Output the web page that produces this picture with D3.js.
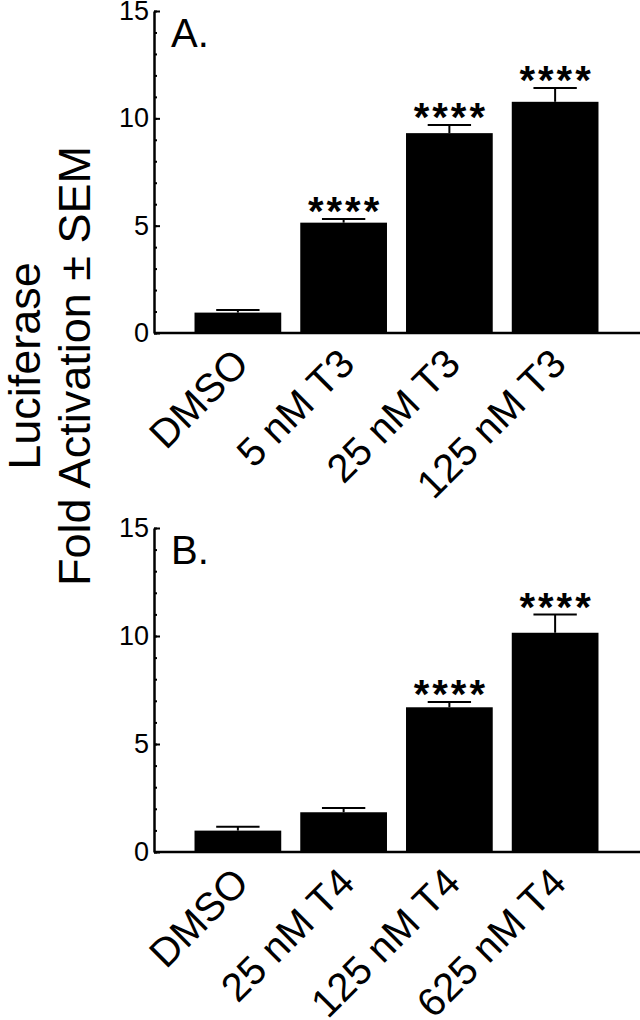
<!DOCTYPE html>
<html>
<head>
<meta charset="utf-8">
<script src="https://cdn.jsdelivr.net/npm/d3@7"></script>
<style>
  body { margin: 0; background: #fff; }
  svg { display: block; font-family: Arial, "Liberation Sans", Helvetica, sans-serif; }
</style>
</head>
<body>
<div id="chart"></div>
<script>
// panel A: T3
const t3Categories = ['DMSO', '5 nM T3', '25 nM T3', '125 nM T3'];
const t3Means = [0.95, 5.14, 9.31, 10.77];
const t3Sem = [0.12, 0.17, 0.38, 0.64];
const t3Stars = ['', '****', '****', '****'];

// panel B: T4
const t4Categories = ['DMSO', '25 nM T4', '125 nM T4', '625 nM T4'];
const t4Means = [0.99, 1.84, 6.7, 10.15];
const t4Sem = [0.18, 0.2, 0.24, 0.84];
const t4Stars = ['', '', '****', '****'];

const majorTicks = [0, 5, 10, 15];
const minorTicks = d3.range(0, 16);
const yTitle = ['Luciferase', 'Fold Activation \u00B1 SEM'];

const width = 640,
  height = 1020;

const svg = d3
  .select('#chart')
  .append('svg')
  .attr('width', width)
  .attr('height', height);

const axisX = 154;

function drawPanel(label, cats, means, sem, stars, y0, y15) {
  const x = d3
    .scaleBand()
    .domain(cats)
    .range([185, 608])
    .paddingInner(0.18)
    .paddingOuter(0.09);

  const y = d3.scaleLinear().domain([0, 15]).range([y0, y15]);

  const g = svg.append('g');
  const rows = cats.map((c, i) => ({ c, m: means[i], e: sem[i], s: stars[i] }));

  // bars
  g.selectAll('rect.bar')
    .data(rows)
    .join('rect')
    .attr('class', 'bar')
    .attr('x', d => x(d.c))
    .attr('width', x.bandwidth())
    .attr('y', d => y(d.m))
    .attr('height', d => y(0) - y(d.m))
    .attr('fill', '#000');

  // error bars (upper only)
  const capW = x.bandwidth() / 2;
  g.selectAll('line.err')
    .data(rows)
    .join('line')
    .attr('class', 'err')
    .attr('x1', d => x(d.c) + x.bandwidth() / 2)
    .attr('x2', d => x(d.c) + x.bandwidth() / 2)
    .attr('y1', d => y(d.m))
    .attr('y2', d => y(d.m + d.e))
    .attr('stroke', '#000')
    .attr('stroke-width', 2);
  g.selectAll('line.cap')
    .data(rows)
    .join('line')
    .attr('class', 'cap')
    .attr('x1', d => x(d.c) + x.bandwidth() / 2 - capW / 2)
    .attr('x2', d => x(d.c) + x.bandwidth() / 2 + capW / 2)
    .attr('y1', d => y(d.m + d.e))
    .attr('y2', d => y(d.m + d.e))
    .attr('stroke', '#000')
    .attr('stroke-width', 2);

  // significance stars
  g.selectAll('text.star')
    .data(rows.filter(d => d.s))
    .join('text')
    .attr('class', 'star')
    .attr('x', d => x(d.c) + x.bandwidth() / 2 + 1.5)
    .attr('y', d => y(d.m + d.e) + 6)
    .attr('text-anchor', 'middle')
    .attr('font-size', 40)
    .attr('font-weight', 'bold')
    .attr('letter-spacing', 3)
    .text(d => d.s);

  // y axis: minor then major ticks, pointing inward
  const minor = d3.axisLeft(y).tickValues(minorTicks).tickSize(-3).tickFormat('');
  g.append('g')
    .attr('transform', `translate(${axisX},0)`)
    .call(minor)
    .call(a => a.select('.domain').remove())
    .call(a => a.selectAll('line').attr('stroke-width', 2));

  const major = d3
    .axisLeft(y)
    .tickValues(majorTicks)
    .tickSizeInner(-6)
    .tickSizeOuter(0)
    .tickPadding(5);
  g.append('g')
    .attr('transform', `translate(${axisX},0)`)
    .call(major)
    .call(a => a.select('.domain').attr('stroke-width', 2.5))
    .call(a => a.selectAll('line').attr('stroke-width', 2))
    .call(a =>
      a.selectAll('text')
        .attr('font-size', 27)
        .attr('font-family', 'Arial, "Liberation Sans", sans-serif')
        .attr('fill', '#000')
    );

  // x axis line
  g.append('line')
    .attr('x1', axisX)
    .attr('x2', width)
    .attr('y1', y(0))
    .attr('y2', y(0))
    .attr('stroke', '#000')
    .attr('stroke-width', 2.5);

  // category labels rotated -45
  g.selectAll('text.cat')
    .data(cats)
    .join('text')
    .attr('class', 'cat')
    .attr('text-anchor', 'end')
    .attr('font-size', 40)
    .attr('transform', d => {
      const cx = x(d) + x.bandwidth() / 2 + 13;
      const cy = y(0) + 33;
      return `translate(${cx},${cy}) rotate(-45)`;
    })
    .text(d => d);

  // panel letter
  g.append('text')
    .attr('x', 171)
    .attr('y', y(15) + 36)
    .attr('font-size', 40)
    .text(label);
}

drawPanel('A.', t3Categories, t3Means, t3Sem, t3Stars, 333, 11);
drawPanel('B.', t4Categories, t4Means, t4Sem, t4Stars, 852, 528);

// shared y title
svg.append('g')
  .attr('transform', 'translate(0,366) rotate(-90)')
  .selectAll('text')
  .data(yTitle)
  .join('text')
  .attr('x', 0)
  .attr('y', (d, i) => 40 + i * 50)
  .attr('text-anchor', 'middle')
  .attr('font-size', 45)
  .text(d => d);
</script>
</body>
</html>
